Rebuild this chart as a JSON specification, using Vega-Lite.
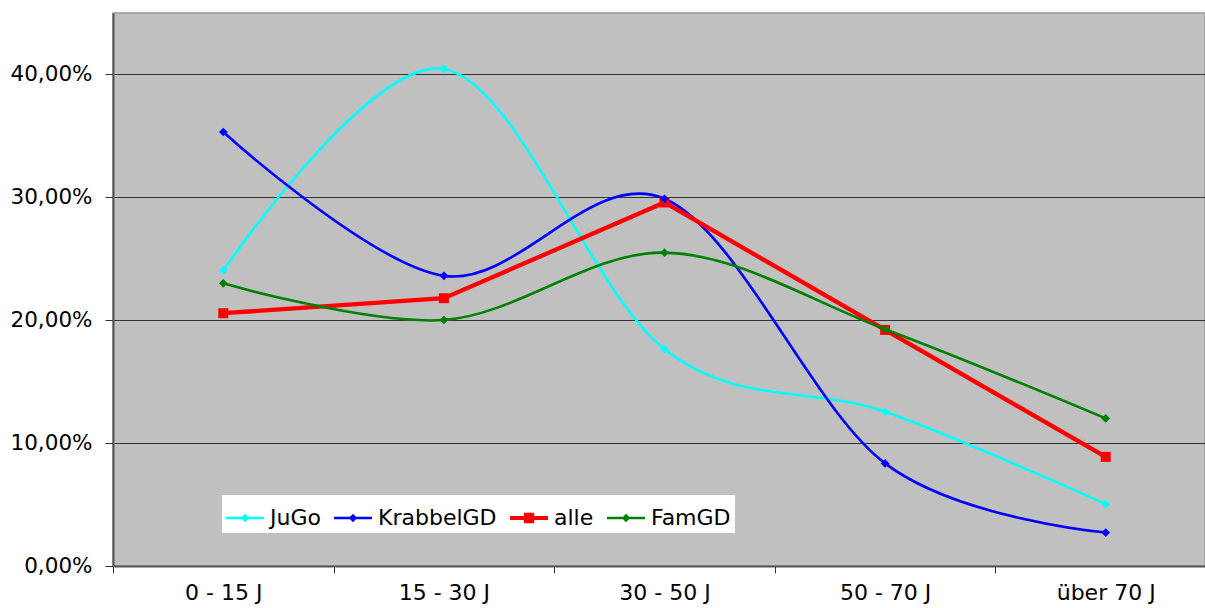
{
  "$schema": "https://vega.github.io/schema/vega-lite/v6.json",
  "width": 1092,
  "height": 553,
  "autosize": {"type": "none"},
  "padding": {"left": 113, "top": 13, "right": 0, "bottom": 42},
  "background": "white",
  "config": {
    "view": {"fill": "#C0C0C0", "stroke": "#999999", "strokeWidth": 1.5},
    "font": "DejaVu Sans"
  },
  "data": {
    "values": [
      {"series": "JuGo", "age": "0 - 15 J", "value": 0.2405},
      {"series": "JuGo", "age": "15 - 30 J", "value": 0.4045},
      {"series": "JuGo", "age": "30 - 50 J", "value": 0.1764},
      {"series": "JuGo", "age": "50 - 70 J", "value": 0.1255},
      {"series": "JuGo", "age": "über 70 J", "value": 0.0503},
      {"series": "KrabbelGD", "age": "0 - 15 J", "value": 0.3532},
      {"series": "KrabbelGD", "age": "15 - 30 J", "value": 0.2361},
      {"series": "KrabbelGD", "age": "30 - 50 J", "value": 0.2988},
      {"series": "KrabbelGD", "age": "50 - 70 J", "value": 0.0835},
      {"series": "KrabbelGD", "age": "über 70 J", "value": 0.0272},
      {"series": "alle", "age": "0 - 15 J", "value": 0.2057},
      {"series": "alle", "age": "15 - 30 J", "value": 0.2179},
      {"series": "alle", "age": "30 - 50 J", "value": 0.2958},
      {"series": "alle", "age": "50 - 70 J", "value": 0.1921},
      {"series": "alle", "age": "über 70 J", "value": 0.0888},
      {"series": "FamGD", "age": "0 - 15 J", "value": 0.2300},
      {"series": "FamGD", "age": "15 - 30 J", "value": 0.2002},
      {"series": "FamGD", "age": "30 - 50 J", "value": 0.2550},
      {"series": "FamGD", "age": "50 - 70 J", "value": 0.1927},
      {"series": "FamGD", "age": "über 70 J", "value": 0.1201}
    ]
  },
  "encoding": {
    "x": {
      "field": "age",
      "type": "nominal",
      "bandPosition": 0.5,
      "scale": {
        "type": "band",
        "domain": ["0 - 15 J", "15 - 30 J", "30 - 50 J", "50 - 70 J", "über 70 J"],
        "range": [0, 1103],
        "paddingInner": 0,
        "paddingOuter": 0
      },
      "axis": {
        "title": null,
        "tickBand": "extent",
        "labelAngle": 0,
        "labelFont": "DejaVu Sans",
        "labelFontSize": 22,
        "labelColor": "#000000",
        "labelBaseline": "alphabetic",
        "labelPadding": 26,
        "tickSize": 7,
        "tickColor": "#333333",
        "tickWidth": 1,
        "domainColor": "#555555",
        "domainWidth": 2,
        "grid": false
      }
    },
    "y": {
      "field": "value",
      "type": "quantitative",
      "scale": {"domain": [0, 0.45], "nice": false, "zero": true},
      "axis": {
        "title": null,
        "values": [0, 0.1, 0.2, 0.3, 0.4],
        "labelExpr": "replace(format(datum.value, '.2%'), '.', ',')",
        "labelFont": "DejaVu Sans",
        "labelFontSize": 21.5,
        "labelColor": "#000000",
        "labelPadding": 13,
        "tickSize": 8,
        "tickColor": "#333333",
        "tickWidth": 1,
        "domainColor": "#555555",
        "domainWidth": 2,
        "grid": true,
        "gridColor": "#333333",
        "gridWidth": 1,
        "gridOpacity": 1
      }
    }
  },
  "layer": [
    {
      "transform": [{"filter": "datum.series !== 'alle' && datum.series !== 'FamGD'"}],
      "mark": {"type": "line", "interpolate": "cardinal", "strokeWidth": 2.6},
      "encoding": {
        "color": {
          "field": "series",
          "type": "nominal",
          "scale": {"domain": ["FamGD", "alle", "KrabbelGD", "JuGo"], "range": ["#008000", "#FF0000", "#0000FF", "#00FFFF"]},
          "legend": null
        }
      }
    },
    {
      "transform": [{"filter": "datum.series === 'alle'"}],
      "mark": {"type": "line", "interpolate": "linear", "strokeWidth": 4.3},
      "encoding": {
        "color": {
          "field": "series",
          "type": "nominal",
          "scale": {"domain": ["FamGD", "alle", "KrabbelGD", "JuGo"], "range": ["#008000", "#FF0000", "#0000FF", "#00FFFF"]},
          "legend": null
        }
      }
    },
    {
      "transform": [{"filter": "datum.series === 'alle'"}],
      "mark": {"type": "point", "shape": "square", "filled": true, "size": 100, "opacity": 1},
      "encoding": {
        "color": {
          "field": "series",
          "type": "nominal",
          "scale": {"domain": ["FamGD", "alle", "KrabbelGD", "JuGo"], "range": ["#008000", "#FF0000", "#0000FF", "#00FFFF"]},
          "legend": null
        }
      }
    },
    {
      "transform": [{"filter": "datum.series === 'FamGD'"}],
      "mark": {"type": "line", "interpolate": "cardinal", "strokeWidth": 2.6},
      "encoding": {
        "color": {
          "field": "series",
          "type": "nominal",
          "scale": {"domain": ["FamGD", "alle", "KrabbelGD", "JuGo"], "range": ["#008000", "#FF0000", "#0000FF", "#00FFFF"]},
          "legend": null
        }
      }
    },
    {
      "transform": [{"filter": "datum.series !== 'alle'"}],
      "mark": {"type": "point", "shape": "diamond", "filled": true, "size": 75, "opacity": 1},
      "encoding": {
        "color": {
          "field": "series",
          "type": "nominal",
          "scale": {"domain": ["FamGD", "alle", "KrabbelGD", "JuGo"], "range": ["#008000", "#FF0000", "#0000FF", "#00FFFF"]},
          "legend": null
        }
      }
    },
    {
      "transform": [{"filter": "datum.series === 'none'"}],
      "mark": {"type": "point", "filled": true, "size": 1444, "strokeWidth": 0, "opacity": 1},
      "encoding": {
        "fill": {
          "field": "series",
          "type": "nominal",
          "scale": {"domain": ["JuGo", "KrabbelGD", "alle", "FamGD"], "range": ["#00FFFF", "#0000FF", "#FF0000", "#008000"]},
          "legend": {
            "title": null,
            "orient": "none",
            "legendX": 109,
            "legendY": 482,
            "direction": "horizontal",
            "columns": 4,
            "fillColor": "#FFFFFF",
            "padding": 4,
            "columnPadding": 13,
            "labelFont": "DejaVu Sans",
            "labelFontSize": 22,
            "labelColor": "#000000",
            "labelOffset": 6,
            "symbolOpacity": 1,
            "symbolStrokeWidth": 0,
            "symbolSize": 1444
          }
        },
        "shape": {
          "field": "series",
          "type": "nominal",
          "scale": {
            "domain": ["JuGo", "KrabbelGD", "alle", "FamGD"],
            "range": [
              "M-1,-0.07H1V0.07H-1Z M0,-0.22L0.22,0L0,0.22L-0.22,0Z",
              "M-1,-0.07H1V0.07H-1Z M0,-0.22L0.22,0L0,0.22L-0.22,0Z",
              "M-1,-0.11H1V0.11H-1Z M-0.27,-0.27H0.27V0.27H-0.27Z",
              "M-1,-0.07H1V0.07H-1Z M0,-0.22L0.22,0L0,0.22L-0.22,0Z"
            ]
          },
          "legend": {
            "title": null,
            "orient": "none",
            "legendX": 109,
            "legendY": 482,
            "direction": "horizontal",
            "columns": 4,
            "fillColor": "#FFFFFF",
            "padding": 4,
            "columnPadding": 13,
            "labelFont": "DejaVu Sans",
            "labelFontSize": 22,
            "labelColor": "#000000",
            "labelOffset": 6,
            "symbolOpacity": 1,
            "symbolStrokeWidth": 0,
            "symbolSize": 1444
          }
        }
      }
    }
  ]
}
